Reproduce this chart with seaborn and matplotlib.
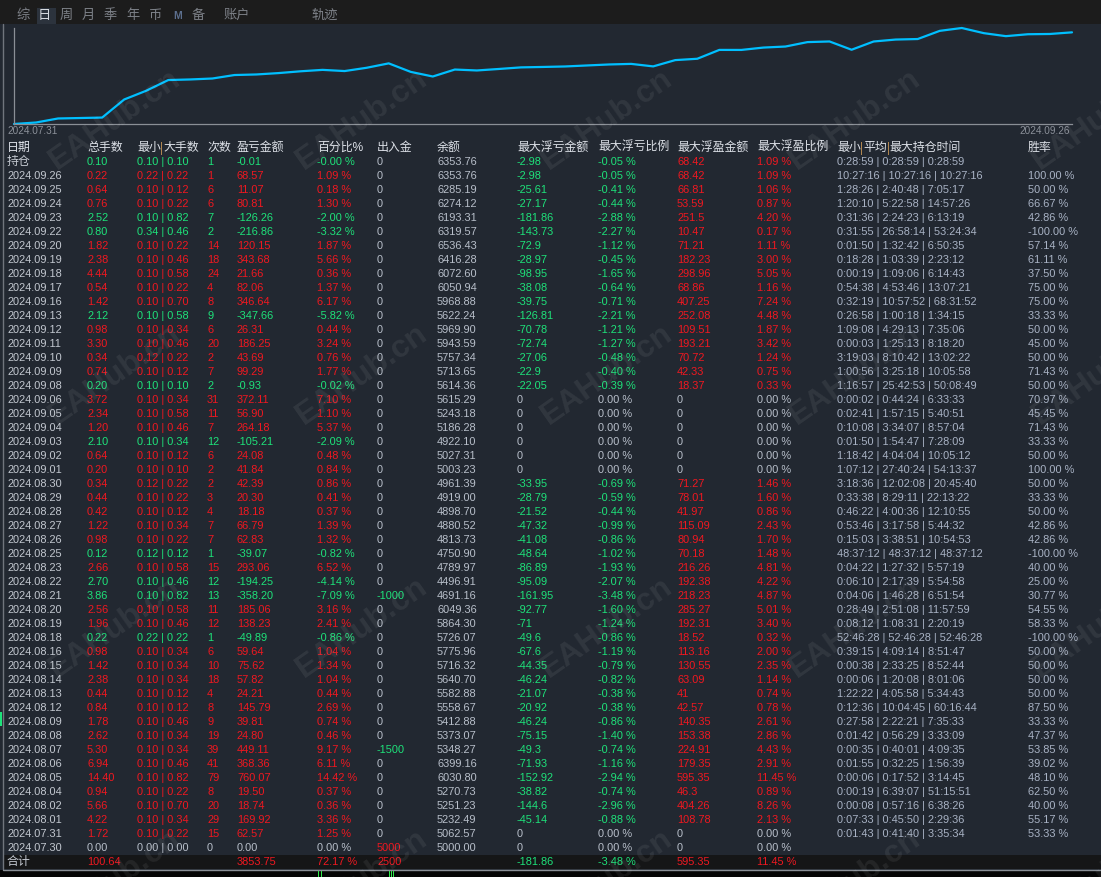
import numpy as np
import pandas as pd
import matplotlib
matplotlib.use('Agg')
import matplotlib.pyplot as plt
from matplotlib.patches import Rectangle
import seaborn as sns

W, H = 1101, 877

# ---- table data (newest first, as in the report) ----
dates = ['2024.09.26', '2024.09.25', '2024.09.24', '2024.09.23', '2024.09.22', '2024.09.20',
         '2024.09.19', '2024.09.18', '2024.09.17', '2024.09.16', '2024.09.13', '2024.09.12',
         '2024.09.11', '2024.09.10', '2024.09.09', '2024.09.08', '2024.09.06', '2024.09.05',
         '2024.09.04', '2024.09.03', '2024.09.02', '2024.09.01', '2024.08.30', '2024.08.29',
         '2024.08.28', '2024.08.27', '2024.08.26', '2024.08.25', '2024.08.23', '2024.08.22',
         '2024.08.21', '2024.08.20', '2024.08.19', '2024.08.18', '2024.08.16', '2024.08.15',
         '2024.08.14', '2024.08.13', '2024.08.12', '2024.08.09', '2024.08.08', '2024.08.07',
         '2024.08.06', '2024.08.05', '2024.08.04', '2024.08.02', '2024.08.01', '2024.07.31',
         '2024.07.30']

lots = [0.22, 0.64, 0.76, 2.52, 0.80, 1.82, 2.38, 4.44, 0.54, 1.42, 2.12, 0.98, 3.30, 0.34, 0.74,
        0.20, 3.72, 2.34, 1.20, 2.10, 0.64, 0.20, 0.34, 0.44, 0.42, 1.22, 0.98, 0.12, 2.66, 2.70,
        3.86, 2.56, 1.96, 0.22, 0.98, 1.42, 2.38, 0.44, 0.84, 1.78, 2.62, 5.30, 6.94, 14.40, 0.94,
        5.66, 4.22, 1.72, 0.00]

lot_min = [0.22, 0.10, 0.10, 0.10, 0.34, 0.10, 0.10, 0.10, 0.10, 0.10, 0.10, 0.10, 0.10, 0.12,
           0.10, 0.10, 0.10, 0.10, 0.10, 0.10, 0.10, 0.10, 0.12, 0.10, 0.10, 0.10, 0.10, 0.12,
           0.10, 0.10, 0.10, 0.10, 0.10, 0.22, 0.10, 0.10, 0.10, 0.10, 0.10, 0.10, 0.10, 0.10,
           0.10, 0.10, 0.10, 0.10, 0.10, 0.10, 0.00]

lot_max = [0.22, 0.12, 0.22, 0.82, 0.46, 0.22, 0.46, 0.58, 0.22, 0.70, 0.58, 0.34, 0.46, 0.22,
           0.12, 0.10, 0.34, 0.58, 0.46, 0.34, 0.12, 0.10, 0.22, 0.22, 0.12, 0.34, 0.22, 0.12,
           0.58, 0.46, 0.82, 0.58, 0.46, 0.22, 0.34, 0.34, 0.34, 0.12, 0.12, 0.46, 0.34, 0.34,
           0.46, 0.82, 0.22, 0.70, 0.34, 0.22, 0.00]

counts = [1, 6, 6, 7, 2, 14, 18, 24, 4, 8, 9, 6, 20, 2, 7, 2, 31, 11, 7, 12, 6, 2, 2, 3, 4, 7, 7,
          1, 15, 12, 13, 11, 12, 1, 6, 10, 18, 4, 8, 9, 19, 39, 41, 79, 8, 20, 29, 15, 0]

profit = [68.57, 11.07, 80.81, -126.26, -216.86, 120.15, 343.68, 21.66, 82.06, 346.64, -347.66,
          26.31, 186.25, 43.69, 99.29, -0.93, 372.11, 56.90, 264.18, -105.21, 24.08, 41.84, 42.39,
          20.30, 18.18, 66.79, 62.83, -39.07, 293.06, -194.25, -358.20, 185.06, 138.23, -49.89,
          59.64, 75.62, 57.82, 24.21, 145.79, 39.81, 24.80, 449.11, 368.36, 760.07, 19.50, 18.74,
          169.92, 62.57, 0.00]

pct = [1.09, 0.18, 1.30, -2.00, -3.32, 1.87, 5.66, 0.36, 1.37, 6.17, -5.82, 0.44, 3.24, 0.76,
       1.77, -0.02, 7.10, 1.10, 5.37, -2.09, 0.48, 0.84, 0.86, 0.41, 0.37, 1.39, 1.32, -0.82, 6.52,
       -4.14, -7.09, 3.16, 2.41, -0.86, 1.04, 1.34, 1.04, 0.44, 2.69, 0.74, 0.46, 9.17, 6.11, 14.42,
       0.37, 0.36, 3.36, 1.25, 0.00]

cash = [0, 0, 0, 0, 0, 0, 0, 0, 0, 0, 0, 0, 0, 0, 0, 0, 0, 0, 0, 0, 0, 0, 0, 0, 0, 0, 0, 0, 0, 0,
        -1000, 0, 0, 0, 0, 0, 0, 0, 0, 0, 0, -1500, 0, 0, 0, 0, 0, 0, 5000]

balance = [6353.76, 6285.19, 6274.12, 6193.31, 6319.57, 6536.43, 6416.28, 6072.60, 6050.94,
           5968.88, 5622.24, 5969.90, 5943.59, 5757.34, 5713.65, 5614.36, 5615.29, 5243.18,
           5186.28, 4922.10, 5027.31, 5003.23, 4961.39, 4919.00, 4898.70, 4880.52, 4813.73,
           4750.90, 4789.97, 4496.91, 4691.16, 6049.36, 5864.30, 5726.07, 5775.96, 5716.32,
           5640.70, 5582.88, 5558.67, 5412.88, 5373.07, 5348.27, 6399.16, 6030.80, 5270.73,
           5251.23, 5232.49, 5062.57, 5000.00]

float_loss = [-2.98, -25.61, -27.17, -181.86, -143.73, -72.9, -28.97, -98.95, -38.08, -39.75,
              -126.81, -70.78, -72.74, -27.06, -22.9, -22.05, 0, 0, 0, 0, 0, 0, -33.95, -28.79,
              -21.52, -47.32, -41.08, -48.64, -86.89, -95.09, -161.95, -92.77, -71, -49.6, -67.6,
              -44.35, -46.24, -21.07, -20.92, -46.24, -75.15, -49.3, -71.93, -152.92, -38.82,
              -144.6, -45.14, 0, 0]

float_loss_pct = [-0.05, -0.41, -0.44, -2.88, -2.27, -1.12, -0.45, -1.65, -0.64, -0.71, -2.21,
                  -1.21, -1.27, -0.48, -0.40, -0.39, 0, 0, 0, 0, 0, 0, -0.69, -0.59, -0.44, -0.99,
                  -0.86, -1.02, -1.93, -2.07, -3.48, -1.60, -1.24, -0.86, -1.19, -0.79, -0.82,
                  -0.38, -0.38, -0.86, -1.40, -0.74, -1.16, -2.94, -0.74, -2.96, -0.88, 0, 0]

float_gain = [68.42, 66.81, 53.59, 251.5, 10.47, 71.21, 182.23, 298.96, 68.86, 407.25, 252.08,
              109.51, 193.21, 70.72, 42.33, 18.37, 0, 0, 0, 0, 0, 0, 71.27, 78.01, 41.97, 115.09,
              80.94, 70.18, 216.26, 192.38, 218.23, 285.27, 192.31, 18.52, 113.16, 130.55, 63.09,
              41, 42.57, 140.35, 153.38, 224.91, 179.35, 595.35, 46.3, 404.26, 108.78, 0, 0]

float_gain_pct = [1.09, 1.06, 0.87, 4.20, 0.17, 1.11, 3.00, 5.05, 1.16, 7.24, 4.48, 1.87, 3.42,
                  1.24, 0.75, 0.33, 0, 0, 0, 0, 0, 0, 1.46, 1.60, 0.86, 2.43, 1.70, 1.48, 4.81,
                  4.22, 4.87, 5.01, 3.40, 0.32, 2.00, 2.35, 1.14, 0.74, 0.78, 2.61, 2.86, 4.43,
                  2.91, 11.45, 0.89, 8.26, 2.13, 0, 0]

hold_times = ['10:27:16 | 10:27:16 | 10:27:16', '1:28:26 | 2:40:48 | 7:05:17',
              '1:20:10 | 5:22:58 | 14:57:26', '0:31:36 | 2:24:23 | 6:13:19',
              '0:31:55 | 26:58:14 | 53:24:34', '0:01:50 | 1:32:42 | 6:50:35',
              '0:18:28 | 1:03:39 | 2:23:12', '0:00:19 | 1:09:06 | 6:14:43',
              '0:54:38 | 4:53:46 | 13:07:21', '0:32:19 | 10:57:52 | 68:31:52',
              '0:26:58 | 1:00:18 | 1:34:15', '1:09:08 | 4:29:13 | 7:35:06',
              '0:00:03 | 1:25:13 | 8:18:20', '3:19:03 | 8:10:42 | 13:02:22',
              '1:00:56 | 3:25:18 | 10:05:58', '1:16:57 | 25:42:53 | 50:08:49',
              '0:00:02 | 0:44:24 | 6:33:33', '0:02:41 | 1:57:15 | 5:40:51',
              '0:10:08 | 3:34:07 | 8:57:04', '0:01:50 | 1:54:47 | 7:28:09',
              '1:18:42 | 4:04:04 | 10:05:12', '1:07:12 | 27:40:24 | 54:13:37',
              '3:18:36 | 12:02:08 | 20:45:40', '0:33:38 | 8:29:11 | 22:13:22',
              '0:46:22 | 4:00:36 | 12:10:55', '0:53:46 | 3:17:58 | 5:44:32',
              '0:15:03 | 3:38:51 | 10:54:53', '48:37:12 | 48:37:12 | 48:37:12',
              '0:04:22 | 1:27:32 | 5:57:19', '0:06:10 | 2:17:39 | 5:54:58',
              '0:04:06 | 1:46:28 | 6:51:54', '0:28:49 | 2:51:08 | 11:57:59',
              '0:08:12 | 1:08:31 | 2:20:19', '52:46:28 | 52:46:28 | 52:46:28',
              '0:39:15 | 4:09:14 | 8:51:47', '0:00:38 | 2:33:25 | 8:52:44',
              '0:00:06 | 1:20:08 | 8:01:06', '1:22:22 | 4:05:58 | 5:34:43',
              '0:12:36 | 10:04:45 | 60:16:44', '0:27:58 | 2:22:21 | 7:35:33',
              '0:01:42 | 0:56:29 | 3:33:09', '0:00:35 | 0:40:01 | 4:09:35',
              '0:01:55 | 0:32:25 | 1:56:39', '0:00:06 | 0:17:52 | 3:14:45',
              '0:00:19 | 6:39:07 | 51:15:51', '0:00:08 | 0:57:16 | 6:38:26',
              '0:07:33 | 0:45:50 | 2:29:36', '0:01:43 | 0:41:40 | 3:35:34', '']

win_rate = [100.00, 50.00, 66.67, 42.86, -100.00, 57.14, 61.11, 37.50, 75.00, 75.00, 33.33, 50.00,
            45.00, 50.00, 71.43, 50.00, 70.97, 45.45, 71.43, 33.33, 50.00, 100.00, 50.00, 33.33,
            50.00, 42.86, 42.86, -100.00, 40.00, 25.00, 30.77, 54.55, 58.33, -100.00, 50.00, 50.00,
            50.00, 50.00, 87.50, 33.33, 47.37, 53.85, 39.02, 48.10, 62.50, 40.00, 55.17, 53.33, None]

for col in [lots, lot_min, lot_max, counts, profit, pct, cash, balance, float_loss, float_loss_pct,
            float_gain, float_gain_pct, hold_times, win_rate]:
    assert len(col) == len(dates), len(col)

# open position row and totals row
open_row = dict(lots=0.10, lmin=0.10, lmax=0.10, n=1, profit=-0.01, pct=-0.0, cash=0,
                balance=6353.76, fl=-2.98, flp=-0.05, fg=68.42, fgp=1.09,
                time='0:28:59 | 0:28:59 | 0:28:59')
total_row = dict(lots=100.64, profit=3853.75, pct=72.17, cash=2500, fl=-181.86, flp=-3.48,
                 fg=595.35, fgp=11.45)

headers = ['日期', '总手数', '最小|大手数', '次数', '盈亏金额', '百分比%', '出入金', '余额',
           '最大浮亏金额', '最大浮亏比例', '最大浮盈金额', '最大浮盈比例', '最小|平均|最大持仓时间', '胜率']
col_x = [7, 87, 137, 207, 237, 317, 377, 437, 517, 598, 677, 757, 837, 1028]

tabs = ['综', '日', '周', '月', '季', '年', '币', 'M', '备', '账户', '轨迹']
tab_x = [22, 44, 66, 88, 110, 132, 154, 177, 198, 230, 317]

# ---- style ----
sns.set_theme(style='dark')
plt.rcParams['font.family'] = ['Liberation Sans', 'Noto Sans CJK SC']

BG = '#222831'
RED = '#f01820'
GREEN = '#1ee27a'
GRAY = '#b8bfca'
DATE = '#c3c8d0'
HEAD = '#dde1e8'
TIME = '#a9b3c5'
SEP = '#b08650'
NUM = 7.9
CJK = 8.6
CJK_PX = CJK * 100 / 72

fig = plt.figure(figsize=(W / 100, H / 100), dpi=100, facecolor=BG)


def fx(x):
    return x / W


def fy(y):
    return 1 - y / H


def put(x, y, s, color, size=NUM, **kw):
    fig.text(fx(x), fy(y), s, color=color, fontsize=size, va='center', ha='left', **kw)


def rect(x0, y0, x1, y1, color, z=0):
    fig.add_artist(Rectangle((fx(x0), fy(y1)), (x1 - x0) / W, (y1 - y0) / H,
                             transform=fig.transFigure, facecolor=color, edgecolor='none', zorder=z))


def sign_color(v, pos=RED, neg=GREEN):
    if v > 0:
        return pos
    if v < 0:
        return neg
    return GRAY


# top tab bar
rect(0, 0, W, 24, '#1c1c1c')
rect(37, 8, 56, 24, '#2c333d')
for t, x in zip(tabs, tab_x):
    if t == '日':
        put(x - 6, 16, t, '#d6dae0', size=9.5)
    elif t == 'M':
        put(x - 4, 16, t, '#5c6f8e', size=7.5, fontweight='bold')
    else:
        put(x - 6, 16, t, '#7d8188', size=9.5)

# equity curve (cumulative closed profit, oldest first)
curve = pd.DataFrame({'day': np.arange(len(dates)), 'equity': np.cumsum(profit[::-1])})
ax = fig.add_axes([fx(14), fy(124), (1072 - 14) / W, (124 - 28) / H])
ax.set_facecolor('none')
sns.lineplot(data=curve, x='day', y='equity', ax=ax, color='#00bfff', linewidth=1.6)
for ln in ax.lines:
    ln.set_clip_on(False)
ax.set_xlim(0, len(dates) - 1)
ax.set_ylim(0, curve['equity'].max())
ax.set_xticks([])
ax.set_yticks([])
ax.set_xlabel('')
ax.set_ylabel('')
for side in ['top', 'right']:
    ax.spines[side].set_visible(False)
for side in ['left', 'bottom']:
    ax.spines[side].set_visible(True)
    ax.spines[side].set_color('#8a8f96')
    ax.spines[side].set_linewidth(0.9)
put(7, 131, dates[-2], '#8b9099', size=7.2)
fig.text(fx(1070), fy(131), dates[0], color='#8b9099', fontsize=7.2, va='center', ha='right')

# left border and bottom strip
fig.add_artist(plt.Line2D([fx(2.5), fx(2.5)], [fy(24), fy(869)], transform=fig.transFigure,
                          color='#70757d', lw=1))
rect(0, 712, 2, 726, '#1ee27a', z=2)
rect(3, 855, W, 869, '#151617')
rect(0, 869.5, W, H, '#050505')
fig.add_artist(plt.Line2D([fx(2.5), fx(W)], [fy(869.5), fy(869.5)], transform=fig.transFigure,
                          color='#8a8f96', lw=1))
for gx in [318, 321, 389, 391, 393]:
    rect(gx, 871, gx + 1, H, '#2ee84a', z=2)

# header row: the '|' in headers is drawn as a thin amber bar
for h, x in zip(headers, col_x):
    parts = h.split('|')
    cx = x
    for k, part in enumerate(parts):
        put(cx, 148, part, HEAD, size=CJK)
        cx += len(part) * CJK_PX
        if k < len(parts) - 1:
            rect(cx + 0.5, 142, cx + 1.6, 155, SEP, z=3)
            cx += 2.5


def draw_row(y, label, label_size, d, time_s, win):
    put(7, y, label, DATE, size=label_size)
    c = sign_color(d['profit'])
    if d['profit'] == 0 and d['lots'] == 0:
        c = GRAY
    put(col_x[1], y, f"{d['lots']:.2f}", c)
    put(col_x[2], y, f"{d['lmin']:.2f} | {d['lmax']:.2f}", c)
    put(col_x[3], y, f"{d['n']}", c)
    put(col_x[4], y, f"{d['profit']:.2f}", c)
    put(col_x[5], y, f"{d['pct']:.2f} %", c)
    put(col_x[6], y, f"{d['cash']:g}", sign_color(d['cash']))
    put(col_x[7], y, f"{d['balance']:.2f}", GRAY)
    put(col_x[8], y, f"{d['fl']:g}", sign_color(d['fl']))
    put(col_x[9], y, f"{d['flp']:.2f} %", sign_color(d['flp']))
    put(col_x[10], y, f"{d['fg']:g}", sign_color(d['fg']))
    put(col_x[11], y, f"{d['fgp']:.2f} %", sign_color(d['fgp']))
    put(col_x[12], y, time_s, TIME)
    if win is not None:
        put(col_x[13], y, f"{win:.2f} %", TIME)


draw_row(162, '持仓', CJK, open_row, open_row['time'], None)

for i in range(len(dates)):
    y = 176 + 14 * i
    d = dict(lots=lots[i], lmin=lot_min[i], lmax=lot_max[i], n=counts[i], profit=profit[i],
             pct=pct[i], cash=cash[i], balance=balance[i], fl=float_loss[i],
             flp=float_loss_pct[i], fg=float_gain[i], fgp=float_gain_pct[i])
    draw_row(y, dates[i], NUM, d, hold_times[i], win_rate[i])

# totals row
yt = 176 + 14 * len(dates)
put(7, yt, '合计', DATE, size=CJK)
put(col_x[1], yt, f"{total_row['lots']:.2f}", RED)
put(col_x[4], yt, f"{total_row['profit']:.2f}", RED)
put(col_x[5], yt, f"{total_row['pct']:.2f} %", RED)
put(col_x[6], yt, f"{total_row['cash']:g}", RED)
put(col_x[8], yt, f"{total_row['fl']:g}", GREEN)
put(col_x[9], yt, f"{total_row['flp']:.2f} %", GREEN)
put(col_x[10], yt, f"{total_row['fg']:g}", RED)
put(col_x[11], yt, f"{total_row['fgp']:.2f} %", RED)

# watermark
for wy in [120, 375, 628, 880]:
    for wx in [115, 362, 607, 855, 1098]:
        fig.text(fx(wx), fy(wy), 'EAHub.cn', rotation=35, ha='center', va='center',
                 rotation_mode='anchor', fontsize=23, fontweight='bold', color='white',
                 alpha=0.07, zorder=10)

fig.savefig('out.png', dpi=100, facecolor=BG)
